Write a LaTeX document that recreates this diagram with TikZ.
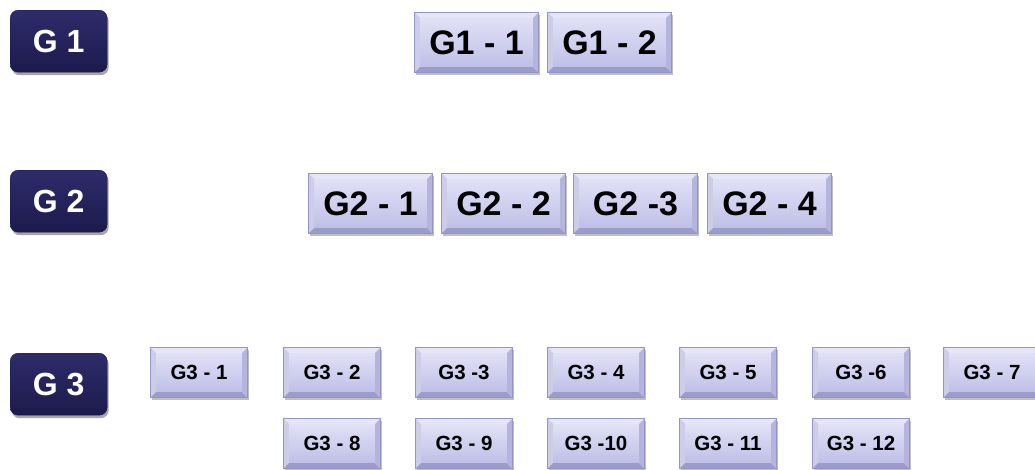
\documentclass[tikz,border=0pt]{standalone}
\usepackage{fontspec}
\setmainfont{Liberation Sans}
\usetikzlibrary{calc,shadows}
\definecolor{navytop}{HTML}{2E2C6A}
\definecolor{navybot}{HTML}{1C1A4C}
\definecolor{boxedge}{HTML}{9494C8}
\definecolor{facetop}{HTML}{E0E0F6}
\definecolor{facebot}{HTML}{C0C0E8}
\definecolor{bevlight}{HTML}{E6E6F8}
\definecolor{bevleft}{HTML}{CDCDE8}
\definecolor{bevdark}{HTML}{9C9CCC}
\definecolor{bevright}{HTML}{B4B4DE}
\newcommand{\bevd}{6}
\tikzset{
  glabel/.style={anchor=north west, inner sep=0pt, minimum width=97pt, minimum height=62pt,
    rounded corners=8pt, top color=navytop, bottom color=navybot, draw=navybot,
    text=white, font=\bfseries\fontsize{32}{34}\selectfont,
    drop shadow={shadow xshift=1.5pt, shadow yshift=-3pt, opacity=0.35, fill=black}},
  bevbox/.style={anchor=north west, inner sep=0pt, draw=boxedge, line width=1pt,
    fill=facetop, text=black,
    path picture={
      \coordinate (pnw) at (path picture bounding box.north west);
      \coordinate (pne) at (path picture bounding box.north east);
      \coordinate (psw) at (path picture bounding box.south west);
      \coordinate (pse) at (path picture bounding box.south east);
      \fill[bevlight] (pnw) -- (pne) -- ($(pne)+(-\bevd,\bevd)$) -- ($(pnw)+(\bevd,\bevd)$) -- cycle;
      \fill[bevleft] (pnw) -- ($(pnw)+(\bevd,\bevd)$) -- ($(psw)+(\bevd,-\bevd)$) -- (psw) -- cycle;
      \fill[bevdark] (psw) -- (pse) -- ($(pse)+(-\bevd,-\bevd)$) -- ($(psw)+(\bevd,-\bevd)$) -- cycle;
      \fill[bevright] (pne) -- ($(pne)+(-\bevd,\bevd)$) -- ($(pse)+(-\bevd,-\bevd)$) -- (pse) -- cycle;
      \shade[top color=facetop, bottom color=facebot] ($(pnw)+(\bevd,\bevd)$) rectangle ($(pse)+(-\bevd,-\bevd)$);
    },
    drop shadow={shadow xshift=1pt, shadow yshift=-2pt, opacity=0.25, fill=black}},
  bigbox/.style={bevbox, minimum width=124pt, minimum height=60pt,
    font=\bfseries\fontsize{34}{36}\selectfont},
  smallbox/.style={bevbox, minimum width=97pt, minimum height=50pt,
    font=\bfseries\fontsize{20.5}{22}\selectfont},
}
\begin{document}
\begin{tikzpicture}[x=1pt, y=-1pt]
\useasboundingbox (0,0) rectangle (1035,469);
% group labels
\node[glabel] (g1) at (10,10) {G 1};
\node[glabel] (g2) at (10,170) {G 2};
\node[glabel] (g3) at (10,353) {G 3};
% G1
\node[bigbox] (g11) at (414,12) {G1 - 1};
\node[bigbox] (g12) at (547,12) {G1 - 2};
% G2
\node[bigbox] (g21) at (308,173) {G2 - 1};
\node[bigbox] (g22) at (441,173) {G2 - 2};
\node[bigbox] (g23) at (573,173) {G2 -3};
\node[bigbox] (g24) at (707,173) {G2 - 4};
% G3 top row
\node[smallbox] (g31) at (150,347) {G3 - 1};
\node[smallbox] (g32) at (283,347) {G3 - 2};
\node[smallbox] (g33) at (415,347) {G3 -3};
\node[smallbox] (g34) at (547,347) {G3 - 4};
\node[smallbox] (g35) at (679,347) {G3 - 5};
\node[smallbox] (g36) at (812,347) {G3 -6};
\node[smallbox] (g37) at (943,347) {G3 - 7};
% G3 bottom row
\node[smallbox] (g38) at (283,418) {G3 - 8};
\node[smallbox] (g39) at (415,418) {G3 - 9};
\node[smallbox] (g310) at (547,418) {G3 -10};
\node[smallbox] (g311) at (679,418) {G3 - 11};
\node[smallbox] (g312) at (812,418) {G3 - 12};
\end{tikzpicture}
\end{document}
